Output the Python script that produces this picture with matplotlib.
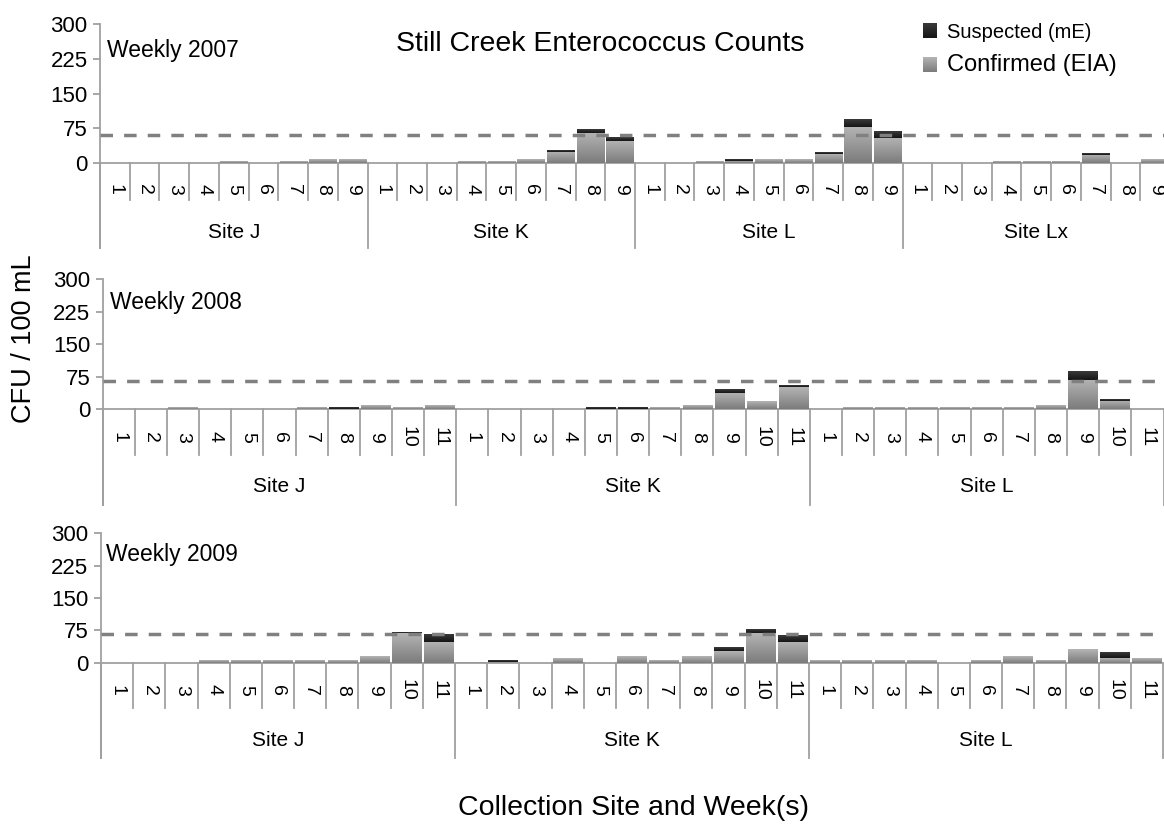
import numpy as np
import matplotlib
matplotlib.use("Agg")
import matplotlib.pyplot as plt
from matplotlib.colors import LinearSegmentedColormap
from matplotlib.patches import Rectangle

plt.rcParams['font.family'] = ['Liberation Sans', 'DejaVu Sans']

# ---------------- data ----------------
title = "Still Creek Enterococcus Counts"
y_label = "CFU / 100 mL"
x_label = "Collection Site and Week(s)"
y_ticks = [0, 75, 150, 225, 300]

panel_names = ["Weekly 2007", "Weekly 2008", "Weekly 2009"]

sites_2007 = ["Site J", "Site K", "Site L", "Site Lx"]
weeks_2007 = ["1", "2", "3", "4", "5", "6", "7", "8", "9"]
confirmed_2007 = [0, 0, 0, 0, 4, 0, 4, 8, 8,
                  0, 0, 0, 4, 4, 8, 25, 66, 48,
                  0, 0, 4, 6, 8, 8, 21, 78, 55,
                  0, 0, 0, 4, 4, 4, 18, 0, 8]
suspected_2007 = [0, 0, 0, 0, 0, 0, 0, 0, 0,
                  0, 0, 0, 0, 0, 0, 3, 8, 7,
                  0, 0, 0, 3, 0, 0, 3, 16, 15,
                  0, 0, 0, 0, 0, 0, 3, 0, 0]

sites_2008 = ["Site J", "Site K", "Site L"]
weeks_2008 = ["1", "2", "3", "4", "5", "6", "7", "8", "9", "10", "11"]
confirmed_2008 = [0, 0, 4, 0, 0, 0, 4, 1, 8, 4, 8,
                  0, 0, 0, 0, 1, 1, 4, 8, 38, 17, 50,
                  0, 4, 4, 4, 4, 4, 4, 8, 68, 19, 0]
suspected_2008 = [0, 0, 0, 0, 0, 0, 0, 3, 0, 0, 0,
                  0, 0, 0, 0, 4, 4, 0, 0, 8, 0, 3,
                  0, 0, 0, 0, 0, 0, 0, 0, 20, 3, 0]

sites_2009 = ["Site J", "Site K", "Site L"]
weeks_2009 = ["1", "2", "3", "4", "5", "6", "7", "8", "9", "10", "11"]
confirmed_2009 = [0, 0, 0, 5, 5, 5, 5, 5, 15, 68, 49,
                  2, 1, 0, 11, 0, 15, 5, 15, 27, 68, 49,
                  5, 5, 5, 5, 0, 5, 15, 5, 31, 11, 11]
suspected_2009 = [0, 0, 0, 0, 0, 0, 0, 0, 0, 2, 17,
                  0, 3, 0, 0, 0, 0, 0, 0, 8, 8, 15,
                  0, 0, 0, 0, 0, 0, 0, 0, 0, 12, 0]

thresholds = [62, 64, 67]

legend_labels = ["Suspected (mE)", "Confirmed (EIA)"]

# ---------------- layout (pixels) ----------------
W, H = 1164, 836
fig = plt.figure(figsize=(W / 100, H / 100), dpi=100)

layouts = [
    dict(left=100, right=1170, top=24, zero=163.3, wbot=200, bot=248, wl=189, sl=233, tx=107, ty=51),
    dict(left=102.7, right=1163.5, top=279.3, zero=409, wbot=455, bot=505, wl=437, sl=487, tx=110, ty=302),
    dict(left=101, right=1163, top=533.3, zero=662.7, wbot=708, bot=758, wl=690, sl=740, tx=106, ty=555),
]

panels = [
    (sites_2007, weeks_2007, confirmed_2007, suspected_2007),
    (sites_2008, weeks_2008, confirmed_2008, suspected_2008),
    (sites_2009, weeks_2009, confirmed_2009, suspected_2009),
]

gray_line = "#a0a0a0"
conf_cmap = LinearSegmentedColormap.from_list("conf", ["#7c7c7c", "#b4b4b4"])
susp_cmap = LinearSegmentedColormap.from_list("susp", ["#151515", "#3a3a3a"])
grad = np.linspace(0, 1, 64).reshape(-1, 1)


def gradient_fill(ax, bars, cmap):
    for b in bars:
        h = b.get_height()
        if h <= 0:
            continue
        x, y = b.get_xy()
        w = b.get_width()
        ax.imshow(grad, extent=[x, x + w, y, y + h], cmap=cmap, aspect='auto',
                  origin='lower', zorder=b.get_zorder() + 0.1, interpolation='bilinear')


for p, (lay, (sites, weeks, conf, susp)) in enumerate(zip(layouts, panels)):
    ppu = (lay['zero'] - lay['top']) / 300.0
    ymin = -(lay['bot'] - lay['zero']) / ppu
    wbot = -(lay['wbot'] - lay['zero']) / ppu
    wl = -(lay['wl'] - lay['zero']) / ppu
    sl = -(lay['sl'] - lay['zero']) / ppu

    ax = fig.add_axes([lay['left'] / W, 1 - lay['bot'] / H,
                       (lay['right'] - lay['left']) / W, (lay['bot'] - lay['top']) / H])
    n = len(conf)
    nw = len(weeks)
    x = np.arange(n)
    conf_a = np.array(conf, dtype=float)
    susp_a = np.array(susp, dtype=float)

    b1 = ax.bar(x, conf_a, width=0.92, color="#9a9a9a", zorder=2, linewidth=0)
    b2 = ax.bar(x, susp_a, width=0.92, bottom=conf_a, color="#262626", zorder=2, linewidth=0)
    gradient_fill(ax, b1, conf_cmap)
    gradient_fill(ax, b2, susp_cmap)

    # threshold line
    ax.plot([-0.5, n - 0.5], [thresholds[p], thresholds[p]], color="#808080",
            lw=2.5, dashes=(3.6, 3.2), zorder=4, dash_capstyle='butt')

    # baseline
    ax.plot([-0.5, n - 0.5], [0, 0], color=gray_line, lw=1.3, zorder=1.5)

    # separators
    for i in range(n + 1):
        xs = i - 0.5
        if i % nw == 0:
            ax.plot([xs, xs], [0, ymin], color=gray_line, lw=1.3, zorder=1, clip_on=False)
        else:
            ax.plot([xs, xs], [0, wbot], color=gray_line, lw=1.3, zorder=1, clip_on=False)

    for i in range(n):
        ax.text(i, wl, weeks[i % nw], rotation=270, ha='center', va='center',
                fontsize=14, rotation_mode='anchor')
    for s, name in enumerate(sites):
        ax.text(s * nw + (nw - 1) / 2, sl, name, ha='center', va='center', fontsize=15)

    ax.set_xlim(-0.5, n - 0.5)
    ax.set_ylim(ymin, 300)
    ax.set_yticks(y_ticks)
    ax.set_xticks([])
    for side in ['top', 'right', 'bottom']:
        ax.spines[side].set_visible(False)
    ax.spines['left'].set_color(gray_line)
    ax.spines['left'].set_linewidth(1.3)
    ax.tick_params(axis='y', direction='out', length=5, width=1.3, color=gray_line,
                   labelsize=16, pad=4)
    ax.patch.set_alpha(0)

    fig.text(lay['tx'] / W, 1 - lay['ty'] / H, panel_names[p], ha='left', va='center', fontsize=16.5)

fig.text(600 / W, 1 - 44 / H, title, ha='center', va='center', fontsize=20.5)
fig.text(24 / W, 1 - 339 / H, y_label, ha='center', va='center', rotation=90, fontsize=19.5)
fig.text(633 / W, 1 - 808 / H, x_label, ha='center', va='center', fontsize=20.5)

# legend
sq_w, sq_h = 14, 15
leg_img = fig.add_axes([923 / W, 1 - 38 / H, sq_w / W, sq_h / H])
leg_img.imshow(grad, cmap=susp_cmap, aspect='auto', origin='lower', extent=[0, 1, 0, 1])
leg_img.axis('off')
leg_img2 = fig.add_axes([923 / W, 1 - 72 / H, sq_w / W, sq_h / H])
leg_img2.imshow(grad, cmap=conf_cmap, aspect='auto', origin='lower', extent=[0, 1, 0, 1])
leg_img2.axis('off')
fig.text(947 / W, 1 - 32 / H, legend_labels[0], ha='left', va='center', fontsize=14.5)
fig.text(947 / W, 1 - 65 / H, legend_labels[1], ha='left', va='center', fontsize=17)

fig.savefig("out.png", dpi=100)
